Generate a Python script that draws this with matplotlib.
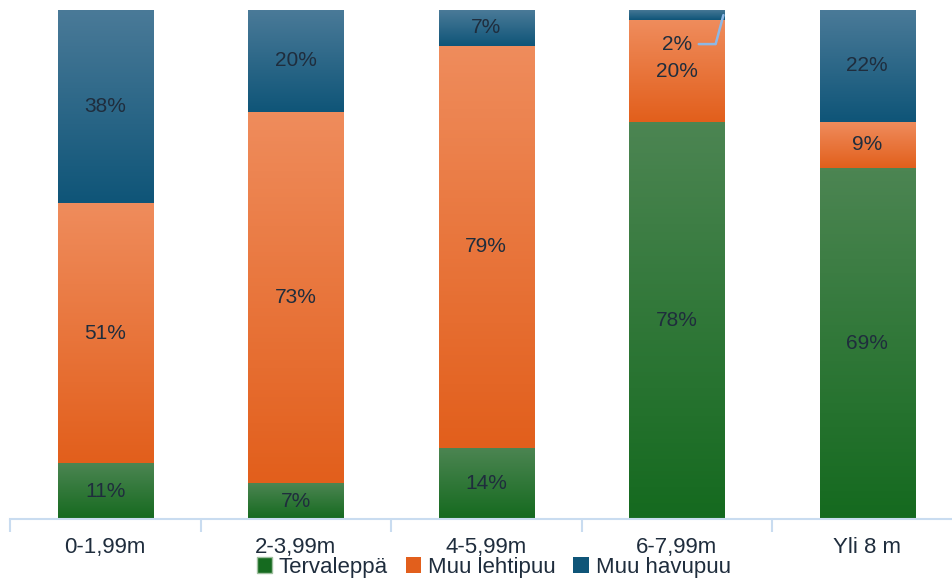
import numpy as np
from matplotlib import pyplot as plt
import matplotlib as mpl
from matplotlib.colors import LinearSegmentedColormap
from matplotlib.patches import Patch

mpl.rcParams["font.family"] = ["Liberation Sans Narrow", "Liberation Sans", "DejaVu Sans"]

# pituusluokat ja osuudet (%)
luokat = ["0-1,99m", "2-3,99m", "4-5,99m", "6-7,99m", "Yli 8 m"]
tervaleppa = [11, 7, 14, 78, 69]
muu_lehtipuu = [51, 73, 79, 20, 9]
muu_havupuu = [38, 20, 7, 2, 22]

sarjat = ["Tervaleppä", "Muu lehtipuu", "Muu havupuu"]
# (yläväri, alaväri) liukuvärille
varit = [("#4c8552", "#156a1f"), ("#ef8c5c", "#e25f1c"), ("#4a7a98", "#0f5578")]

teksti = dict(fontsize=15, color="#1f2d3d", family="Liberation Sans", stretch="normal")

fig = plt.figure(figsize=(9.53, 5.83), dpi=100)
ax = fig.add_axes([10 / 953, 64 / 583, 952.5 / 953, 509 / 583])

x = np.arange(len(luokat))
leveys = 0.5
pohja = np.zeros(len(luokat))
for arvot, (yla, ala) in zip([tervaleppa, muu_lehtipuu, muu_havupuu], varit):
    cmap = LinearSegmentedColormap.from_list("g", [ala, yla])
    grad = np.linspace(1, 0, 100).reshape(-1, 1)
    palkit = ax.bar(x, arvot, leveys, bottom=pohja, color=ala, linewidth=0)
    for p in palkit:
        x0, y0 = p.get_x(), p.get_y()
        ax.imshow(grad, cmap=cmap, extent=[x0, x0 + p.get_width(), y0, y0 + p.get_height()],
                  aspect="auto", zorder=2, vmin=0, vmax=1)
    for i, v in enumerate(arvot):
        if v == 2:
            ax.annotate(f"{v}%", xy=(x[i] + 0.245, 99.0), xytext=(x[i], 93.3),
                        ha="center", va="center", zorder=4, **teksti,
                        arrowprops=dict(arrowstyle="-", color="#8db8e6", lw=1.8,
                                        connectionstyle="angle,angleA=0,angleB=75,rad=0",
                                        shrinkA=3, shrinkB=0))
        else:
            ax.text(x[i], pohja[i] + v / 2, f"{v}%", ha="center", va="center",
                    zorder=4, **teksti)
    pohja += np.array(arvot)

ax.set_xlim(-0.5, len(luokat) - 0.5)
ax.set_ylim(0, 100)
for s in ["top", "right", "left"]:
    ax.spines[s].set_visible(False)
ax.spines["bottom"].set_color("#c9dcf0")
ax.spines["bottom"].set_linewidth(1.5)
ax.set_yticks([])
ax.set_xticks(x, luokat, fontsize=16, color="#1f2d3d")
ax.tick_params(axis="x", length=0, pad=13)
ax.set_xticks(np.arange(-0.5, len(luokat)), minor=True)
ax.tick_params(axis="x", which="minor", length=9, width=1.5, color="#c9dcf0")

kahvat = [Patch(facecolor=ala, edgecolor="#a0c0a0" if i == 0 else "none")
          for i, (yla, ala) in enumerate(varit)]
fig.legend(kahvat, sarjat, loc="lower center", bbox_to_anchor=(0.518, -0.025), ncol=3,
           frameon=False, fontsize=16, handlelength=0.7, handleheight=0.7,
           handletextpad=0.3, columnspacing=0.8, labelcolor="#1f2d3d")

fig.savefig("out.png", dpi=100)
